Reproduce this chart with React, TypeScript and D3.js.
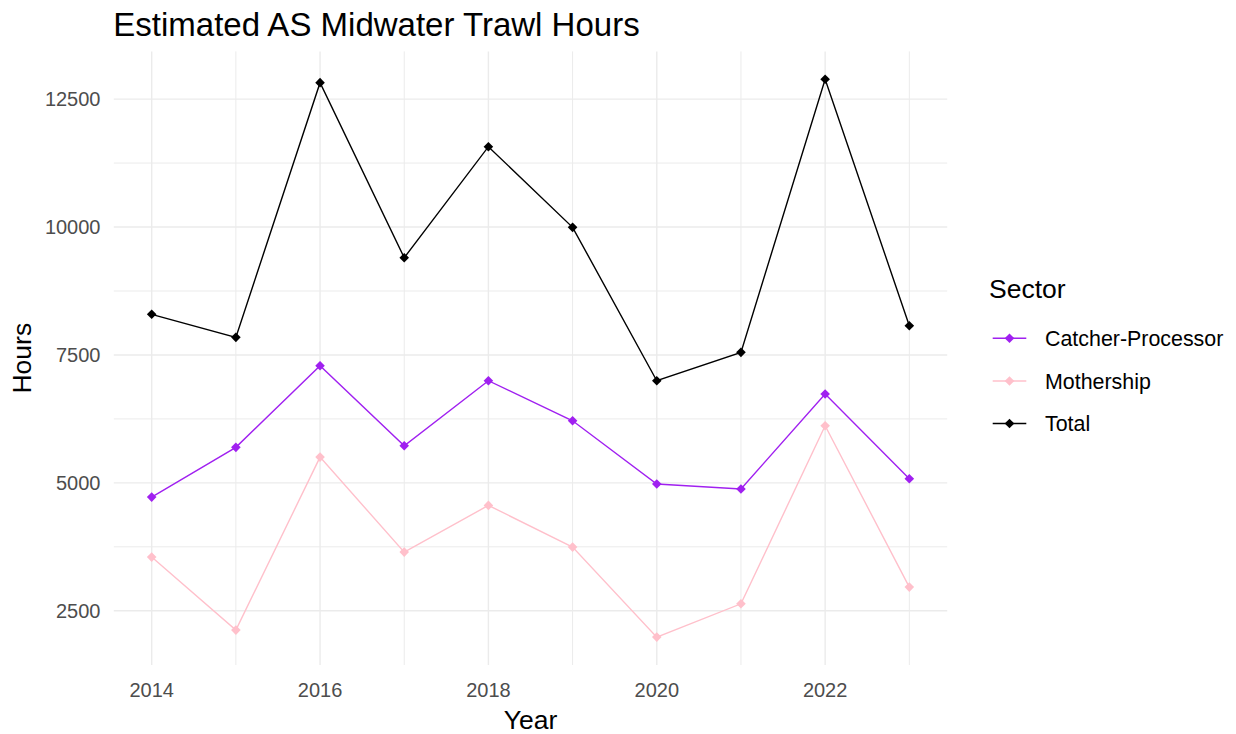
import React from "react";
import * as d3 from "d3";

const years = [2014, 2015, 2016, 2017, 2018, 2019, 2020, 2021, 2022, 2023];
const catcherProcessor = [4722, 5694, 7289, 5725, 6996, 6214, 4977, 4879, 6736, 5080];
const mothership = [3550, 2123, 5504, 3647, 4560, 3745, 1986, 2637, 6116, 2963];
const total = [8294, 7844, 12821, 9400, 11570, 9994, 6996, 7551, 12887, 8071];
const seriesNames = ["Catcher-Processor", "Mothership", "Total"];
const seriesColors = ["#A020F0", "#FFC0CB", "#000000"];
const yTicks = [2500, 5000, 7500, 10000, 12500];
const yMinorTicks = [1250, 3750, 6250, 8750, 11250];
const xTicks = [2014, 2016, 2018, 2020, 2022];
const xMinorTicks = [2015, 2017, 2019, 2021, 2023];

const W = 1236;
const H = 734;
const panel = { left: 113.8, right: 947.2, top: 51.4, bottom: 665 };
const FONT = "'Liberation Sans', Arial, sans-serif";

function diamond(cx: number, cy: number, r: number) {
  return `M${cx},${cy - r}L${cx + r},${cy}L${cx},${cy + r}L${cx - r},${cy}Z`;
}

export default function App() {
  const allSeries = [catcherProcessor, mothership, total];
  const allVals = allSeries.flat();
  const [ymin, ymax] = d3.extent(allVals) as [number, number];
  const yPad = (ymax - ymin) * 0.05;
  const y = d3.scaleLinear().domain([ymin - yPad, ymax + yPad]).range([panel.bottom, panel.top]);
  const [xmin, xmax] = d3.extent(years) as [number, number];
  const xPad = (xmax - xmin) * 0.05;
  const x = d3.scaleLinear().domain([xmin - xPad, xmax + xPad]).range([panel.left, panel.right]);

  const line = d3
    .line<number>()
    .x((_, i) => x(years[i]))
    .y((d) => y(d));

  const gridColor = "#ebebeb";
  const legendX = 992.7;
  const legendRows = [338.3, 381, 423.5];

  return (
    <svg
      width={W}
      height={H}
      style={{ position: "absolute", left: 0, top: 0, background: "#fff" }}
      fontFamily={FONT}
    >
      {/* minor grid */}
      {yMinorTicks
        .filter((t) => y(t) >= panel.top && y(t) <= panel.bottom)
        .map((t) => (
          <line key={"ym" + t} x1={panel.left} x2={panel.right} y1={y(t)} y2={y(t)} stroke={gridColor} strokeWidth={1} />
        ))}
      {xMinorTicks.map((t) => (
        <line key={"xm" + t} x1={x(t)} x2={x(t)} y1={panel.top} y2={panel.bottom} stroke={gridColor} strokeWidth={1} />
      ))}
      {/* major grid */}
      {yTicks.map((t) => (
        <line key={"y" + t} x1={panel.left} x2={panel.right} y1={y(t)} y2={y(t)} stroke={gridColor} strokeWidth={1.4} />
      ))}
      {xTicks.map((t) => (
        <line key={"x" + t} x1={x(t)} x2={x(t)} y1={panel.top} y2={panel.bottom} stroke={gridColor} strokeWidth={1.4} />
      ))}

      {/* lines */}
      {allSeries.map((s, si) => (
        <path key={"l" + si} d={line(s) || ""} fill="none" stroke={seriesColors[si]} strokeWidth={1.4} />
      ))}
      {/* points */}
      {allSeries.map((s, si) =>
        s.map((v, i) => (
          <path key={"p" + si + "-" + i} d={diamond(x(years[i]), y(v), 4.8)} fill={seriesColors[si]} />
        ))
      )}

      {/* y tick labels */}
      {yTicks.map((t) => (
        <text key={"yt" + t} x={100.5} y={y(t)} dy="0.36em" textAnchor="end" fontSize={20} fill="#4d4d4d">
          {t}
        </text>
      ))}
      {/* x tick labels */}
      {xTicks.map((t) => (
        <text key={"xt" + t} x={x(t)} y={696.5} textAnchor="middle" fontSize={20} fill="#4d4d4d">
          {t}
        </text>
      ))}

      {/* axis titles */}
      <text x={(panel.left + panel.right) / 2} y={729} textAnchor="middle" fontSize={26.5} fill="#000">
        Year
      </text>
      <text
        transform={`translate(31,${(panel.top + panel.bottom) / 2}) rotate(-90)`}
        textAnchor="middle"
        fontSize={26.5}
        fill="#000"
      >
        Hours
      </text>

      {/* title */}
      <text x={113.3} y={36} fontSize={33} fill="#000">
        Estimated AS Midwater Trawl Hours
      </text>

      {/* legend */}
      <text x={989} y={298} fontSize={26.5} fill="#000">
        Sector
      </text>
      {seriesNames.map((name, i) => (
        <g key={"lg" + name}>
          <line x1={legendX} x2={legendX + 33.6} y1={legendRows[i]} y2={legendRows[i]} stroke={seriesColors[i]} strokeWidth={1.4} />
          <path d={diamond(legendX + 16.8, legendRows[i], 4.8)} fill={seriesColors[i]} />
          <text x={1045} y={legendRows[i]} dy="0.36em" fontSize={21.4} fill="#000">
            {name}
          </text>
        </g>
      ))}
    </svg>
  );
}
